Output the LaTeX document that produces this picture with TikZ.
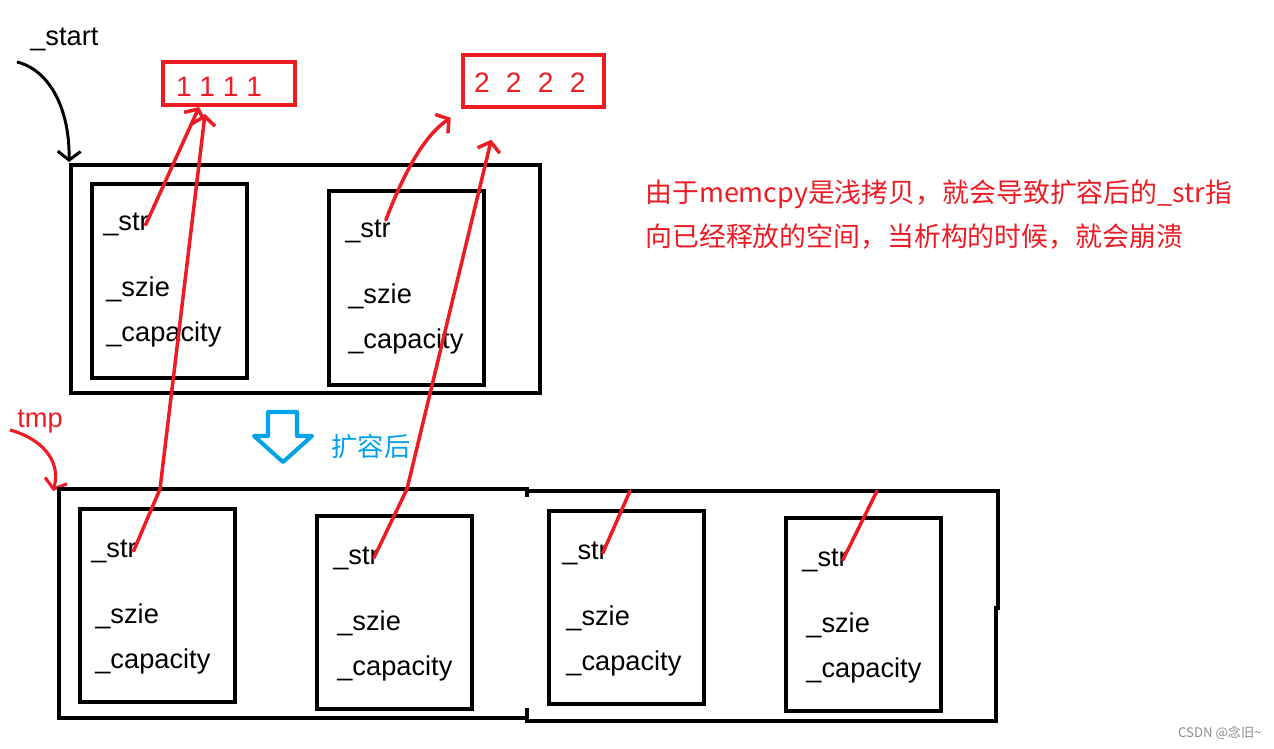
\documentclass[tikz,border=0pt]{standalone}
\usepackage{fontspec}
\setmainfont{Liberation Sans}
\newfontfamily\cjk{Noto Sans CJK SC}
\usetikzlibrary{arrows.meta,calc}
\definecolor{inkred}{RGB}{237,28,36}
\definecolor{inkblue}{RGB}{0,162,232}
\tikzset{
  box/.style={line width=2.6pt},
  field/.style={anchor=base west, inner sep=0pt, font=\fontsize{15.5}{18}\selectfont},
  valbox/.style={draw=inkred, line width=2.3pt, text=inkred, anchor=north west, inner ysep=0pt, font=\fontsize{16}{18}\selectfont},
  ptr/.style={inkred, line width=2pt, line cap=round, -{Straight Barb[length=5pt,width=13pt]}},
  link/.style={inkred, line width=2pt, line cap=round},
}
\begin{document}
\begin{tikzpicture}[x=0.02cm,y=-0.02cm]
    \useasboundingbox (0,0) rectangle (1274,749);

    % old buffer (_start)
    \node[field] (lstart) at (30,46) {\_start};
    \draw[box] (71,165) rectangle (540,393);
    \coordinate (a0) at (69,162);
    \draw[line width=1.7pt, -{Straight Barb[length=5pt,width=13pt]}] (17,62) .. controls (50,70) and (70,110) .. (a0);
    \foreach \x/\y/\d/\n in {92/184/0/1, 329/191/5/2} {
        \draw[box] (\x,\y) rectangle ++(155,194);
        \node[field] (s\n) at (\x+11+\d,\y+47) {\_str};
        \node[field] (z\n) at (\x+14+\d,\y+113) {\_szie};
        \node[field] (c\n) at (\x+14+\d,\y+158) {\_capacity};
    }

    % heap strings
    \node[valbox, inner xsep=0.26cm, minimum height=0.86cm] (v1) at (161,60) {\makebox[2.12cm][l]{\raisebox{-2.5pt}[10pt][0pt]{1 1 1 1}}};
    \node[valbox, inner xsep=0.22cm, minimum height=1.04cm] (v2) at (461,53) {\makebox[2.38cm][l]{\raisebox{-1.5pt}[10pt][0pt]{2\hspace{0.58em}2\hspace{0.58em}2\hspace{0.58em}2}}};

    % expansion
    \draw[inkblue, line width=2.3pt, line join=round] (268,412) -- (297,412) -- (297,436) -- (312,436) -- (283,462) -- (254,436) -- (268,436) -- cycle;
    \node[text=inkblue, anchor=west, inner sep=0pt, font=\cjk\fontsize{15}{18}\selectfont] (grow) at (331,446) {扩容后};

    % new buffer (tmp)
    \node[field, text=inkred] (ltmp) at (17,428) {tmp};
    \coordinate (b0) at (53,491);
    \draw[inkred, line width=1.8pt, -{Straight Barb[length=5pt,width=13pt]}] (10,430) .. controls (40,438) and (62,460) .. (b0);
    \draw[box] (527,497) -- (527,489) -- (59,489) -- (59,718) -- (525,718);
    \draw[box] (527,491) -- (998,491) -- (998,610);
    \draw[box] (996,606) -- (996,721) -- (527,721) -- (527,708);
    \foreach \x/\y/\d/\n in {80/509/0/1, 317/516/5/2, 549/511/2/3, 786/518/5/4} {
        \draw[box] (\x,\y) rectangle ++(155,193);
        \node[field] (t\n) at (\x+11+\d,\y+48) {\_str};
        \node[field] (y\n) at (\x+15+\d,\y+114) {\_szie};
        \node[field] (w\n) at (\x+15+\d,\y+159) {\_capacity};
    }

    % pointers
    \coordinate (k1) at (160,489);
    \coordinate (k2) at (407,489);
    \coordinate (k3) at (630,491);
    \coordinate (k4) at (877,491);
    \draw[ptr] ([xshift=-2pt]s1.east) -- ($(v1.south west)!0.28!(v1.south east)$);
    \draw[ptr, shorten >=4pt] ([xshift=-2pt]t1.east) -- (k1) -- ($(v1.south west)!0.33!(v1.south east)$);
    \draw[ptr, shorten >=9pt] ([xshift=-3pt]s2.north east) .. controls (405,170) and (425,135) .. ($(v2.south west)!0.02!(v2.south east)$);
    \draw[ptr, shorten >=18pt] ([xshift=-3pt]t2.east) -- (k2) -- ($(v2.south west)!0.26!(v2.south east)$);
    \draw[link] ([xshift=-3pt]t3.east) -- (k3);
    \draw[link] ([xshift=-3pt]t4.east) -- (k4);

    % note
    \node[text=inkred, anchor=west, align=left, inner sep=0pt, font=\cjk\fontsize{15.3}{25}\selectfont] (note) at (645,215) {由于memcpy是浅拷贝，就会导致扩容后的\_str指\\向已经释放的空间，当析构的时候，就会崩溃};
    \node[text=black!45, anchor=east, inner sep=0pt, font=\cjk\fontsize{7.5}{9}\selectfont] (mark) at (1262,733) {CSDN @念旧\textasciitilde};
\end{tikzpicture}
\end{document}
